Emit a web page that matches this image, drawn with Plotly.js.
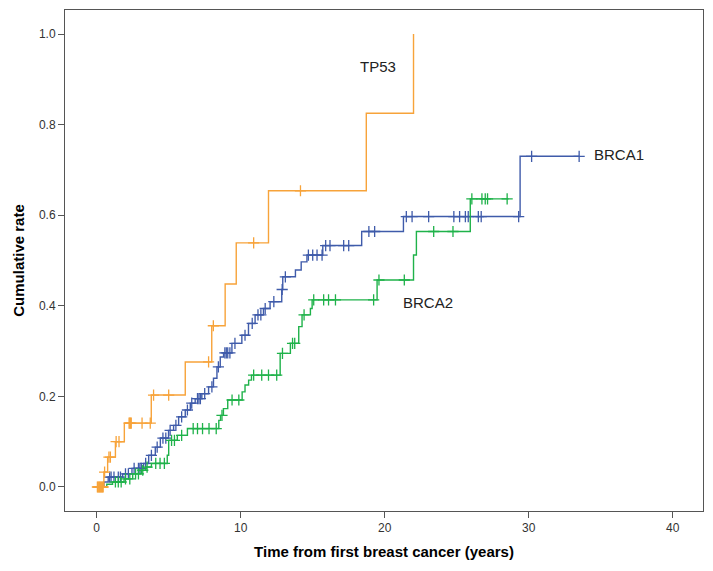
<!DOCTYPE html>
<html>
<head>
<meta charset="utf-8">
<script src="https://cdn.plot.ly/plotly-3.0.1.min.js"></script>
<style>html,body{margin:0;padding:0;background:#fff;}#chart{width:713px;height:571px;}</style>
</head>
<body>
<div id="chart"></div>
<script>
// ---- data ----
const tp53Times = [0.5, 0.76, 1.3, 1.92, 3.79, 6.15, 7.99, 8.92, 9.69, 11.93, 18.72, 22.0];
const tp53Rates = [0.033, 0.066, 0.10, 0.141, 0.203, 0.276, 0.356, 0.448, 0.539, 0.654, 0.825, 1.0];
const tp53Censored = [0.05, 0.1, 0.15, 0.2, 0.25, 0.3, 0.35, 0.4, 0.45, 0.55, 0.85, 0.95, 1.35, 1.55, 2.25, 2.3, 2.35, 2.4, 3.15, 3.72, 3.95, 5.0, 7.77, 8.1, 10.9, 14.15];
const tp53End = 22.0;

const brca1Times = [0.5, 0.8, 1.8, 2.45, 3.26, 3.61, 4.07, 4.42, 4.99, 5.34, 5.69, 6.15, 6.5, 6.84, 7.3, 7.77, 8.11, 8.35, 8.58, 8.81, 9.39, 10.08, 10.54, 11.0, 11.58, 12.04, 12.85, 12.92, 13.8, 14.2, 14.6, 15.7, 18.4, 21.3, 29.4];
const brca1Rates = [0.011, 0.022, 0.029, 0.041, 0.052, 0.070, 0.088, 0.108, 0.125, 0.136, 0.155, 0.170, 0.185, 0.195, 0.206, 0.221, 0.240, 0.265, 0.287, 0.296, 0.317, 0.335, 0.361, 0.380, 0.394, 0.409, 0.436, 0.464, 0.479, 0.497, 0.512, 0.533, 0.564, 0.597, 0.730];
const brca1Censored = [0.9, 1.0, 1.2, 1.5, 1.65, 2.0, 2.2, 2.6, 2.9, 3.0, 3.1, 3.4, 3.8, 4.2, 4.6, 4.8, 5.1, 5.5, 5.9, 6.3, 6.6, 7.0, 7.1, 7.2, 7.5, 8.0, 8.45, 8.9, 9.0, 9.1, 9.25, 9.6, 10.3, 10.8, 11.2, 11.4, 11.7, 12.3, 12.88, 13.1, 14.7, 15.0, 15.3, 15.65, 15.9, 16.2, 17.15, 17.5, 18.9, 19.3, 21.5, 21.9, 23.05, 24.8, 25.2, 25.6, 25.8, 26.5, 26.7, 29.3, 30.2, 33.5];
const brca1End = 33.5;

const brca2Times = [0.7, 1.1, 1.9, 2.5, 3.1, 3.4, 3.8, 4.9, 5.0, 5.6, 6.3, 8.48, 8.6, 8.8, 9.1, 10.1, 10.3, 10.55, 10.75, 12.74, 13.45, 14.03, 14.26, 14.84, 14.96, 19.47, 22.0, 22.2, 25.94];
const brca2Rates = [0.006, 0.011, 0.018, 0.029, 0.037, 0.044, 0.052, 0.07, 0.103, 0.114, 0.129, 0.147, 0.158, 0.173, 0.192, 0.21, 0.225, 0.236, 0.247, 0.295, 0.317, 0.354, 0.38, 0.394, 0.413, 0.457, 0.512, 0.564, 0.636];
const brca2Censored = [1.3, 1.5, 1.7, 2.0, 2.3, 2.7, 2.9, 3.2, 3.5, 4.1, 4.4, 4.7, 5.2, 5.4, 5.9, 6.7, 7.0, 7.35, 7.8, 8.3, 8.7, 9.4, 9.87, 10.9, 11.46, 11.93, 12.5, 12.9, 13.6, 13.75, 14.4, 15.07, 15.76, 16.1, 16.58, 19.23, 19.6, 21.36, 23.4, 24.74, 26.05, 26.75, 26.98, 27.14, 28.5];
const brca2End = 28.6;

const xTicks = [0, 10, 20, 30, 40];
const yTicks = [0.0, 0.2, 0.4, 0.6, 0.8, 1.0];
const yTickText = ['0.0', '0.2', '0.4', '0.6', '0.8', '1.0'];

const groups = [
  {name: 'BRCA1', times: brca1Times, rates: brca1Rates, cens: brca1Censored, end: brca1End, color: '#3F5BAA'},
  {name: 'BRCA2', times: brca2Times, rates: brca2Rates, cens: brca2Censored, end: brca2End, color: '#1FB24A'},
  {name: 'TP53',  times: tp53Times,  rates: tp53Rates,  cens: tp53Censored,  end: tp53End,  color: '#F7A33A'}
];

function levelAt(times, rates, t) {
  let v = 0;
  for (let i = 0; i < times.length; i++) { if (times[i] <= t) v = rates[i]; }
  return v;
}

const traces = [];
groups.forEach(g => {
  const x = [0].concat(g.times, [g.end]);
  const y = [0].concat(g.rates, [g.rates[g.rates.length - 1]]);
  traces.push({x: x, y: y, mode: 'lines', line: {shape: 'hv', color: g.color, width: 1.4}, hoverinfo: 'skip', showlegend: false});
  traces.push({x: g.cens, y: g.cens.map(t => levelAt(g.times, g.rates, t)), mode: 'markers',
    marker: {symbol: 'cross-thin-open', size: 8, color: g.color, line: {color: g.color, width: 1.3}}, showlegend: false});
});

const layout = {
  width: 713, height: 571,
  margin: {l: 65, r: 10, t: 10, b: 60},
  paper_bgcolor: '#fff', plot_bgcolor: '#fff',
  font: {family: 'Liberation Sans, Arial, sans-serif', color: '#333'},
  xaxis: {
    range: [-2.2, 42.1], tickvals: xTicks, ticktext: xTicks.map(String),
    showgrid: false, zeroline: false, showline: true, mirror: true, linecolor: '#555', linewidth: 1,
    ticks: 'outside', ticklen: 6, tickcolor: '#555', tickfont: {size: 12, color: '#333'},
    title: {text: 'Time from first breast cancer (years)', font: {size: 15, color: '#000', family: 'Liberation Sans Narrow, Liberation Sans, Arial, sans-serif', weight: 'bold'}, standoff: 12}
  },
  yaxis: {
    range: [-0.053, 1.053], tickvals: yTicks, ticktext: yTickText,
    showgrid: false, zeroline: false, showline: true, mirror: true, linecolor: '#555', linewidth: 1,
    ticks: 'outside', ticklen: 6, tickcolor: '#555', tickfont: {size: 12, color: '#333'},
    title: {text: 'Cumulative rate', font: {size: 15, color: '#000', family: 'Liberation Sans Narrow, Liberation Sans, Arial, sans-serif', weight: 'bold'}, standoff: 10}
  },
  annotations: [
    {x: 18.17, y: 0.928, xref: 'x', yref: 'y', text: 'TP53', showarrow: false, xanchor: 'left', yanchor: 'middle', font: {size: 15, color: '#222'}},
    {x: 34.4, y: 0.733, xref: 'x', yref: 'y', text: 'BRCA1', showarrow: false, xanchor: 'left', yanchor: 'middle', font: {size: 15, color: '#222'}},
    {x: 21.13, y: 0.408, xref: 'x', yref: 'y', text: 'BRCA2', showarrow: false, xanchor: 'left', yanchor: 'middle', font: {size: 15, color: '#222'}}
  ]
};

Plotly.newPlot('chart', traces, layout, {displayModeBar: false, staticPlot: true});
</script>
</body>
</html>
